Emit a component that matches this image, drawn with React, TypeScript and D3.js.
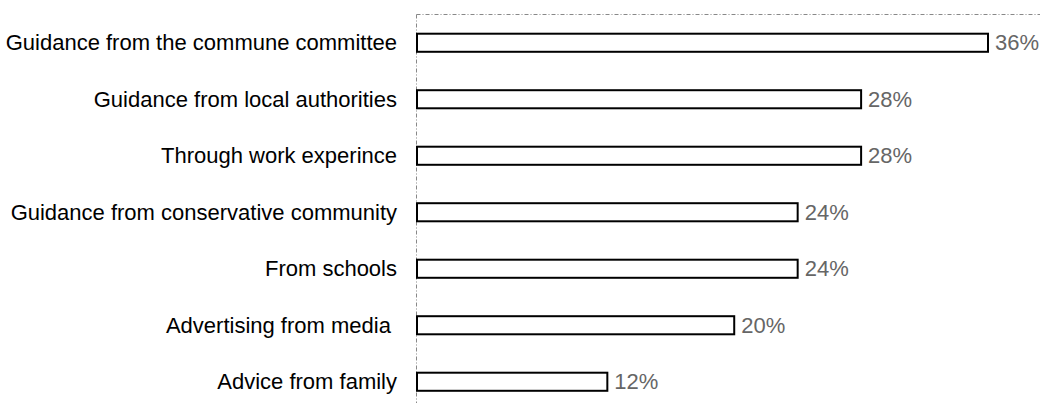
import React from "react";
import * as d3 from "d3";

const categories = [
  "Guidance from the commune committee",
  "Guidance from local authorities",
  "Through work experince",
  "Guidance from conservative community",
  "From schools",
  "Advertising from media ",
  "Advice from family",
];
const values = [36, 28, 28, 24, 24, 20, 12];

const W = 1040;
const H = 403;

export default function App() {
  const x0 = 417;
  const x = d3.scaleLinear().domain([0, 36]).range([x0, 988]);
  const y = d3.scaleBand<string>().domain(categories).range([14.5, 410]).paddingInner(0.68).paddingOuter(0.34);
  const bh = y.bandwidth();
  return (
    <svg width={W} height={H} style={{ position: "absolute", left: 0, top: 0 }} fontFamily="'Liberation Sans', Arial, sans-serif">
      <line x1={416.5} x2={W} y1={14.5} y2={14.5} stroke="#888" strokeWidth={1} strokeDasharray="4,2,1,2" />
      <line x1={416.5} x2={416.5} y1={14.5} y2={H} stroke="#888" strokeWidth={1} strokeDasharray="4,2,1,2" />
      {categories.map((c, i) => {
        const yy = y(c)!;
        return (
          <g key={c}>
            <rect x={x(0)} y={yy} width={x(values[i]) - x(0)} height={bh} fill="#fff" stroke="#000" strokeWidth={2} />
            <text x={397} y={yy + bh / 2} dy="0.35em" textAnchor="end" fontSize={22} fill="#000" style={{ whiteSpace: "pre" }}>{c}</text>
            <text x={x(values[i]) + 7} y={yy + bh / 2} dy="0.35em" fontSize={22} fill="#666">{values[i]}%</text>
          </g>
        );
      })}
    </svg>
  );
}
